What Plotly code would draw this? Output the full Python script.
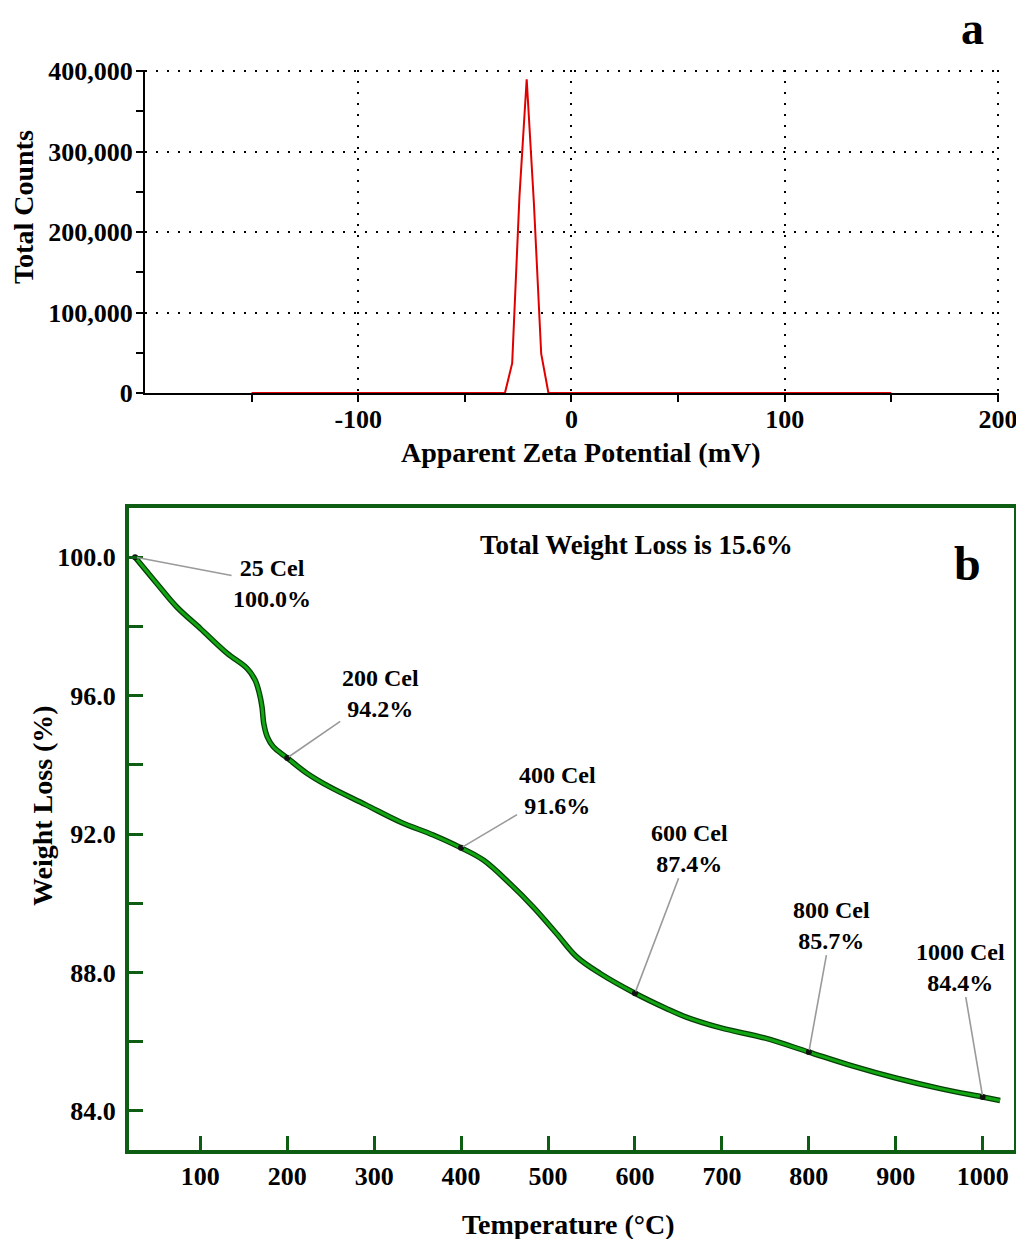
import plotly.graph_objects as go

# ---------------- data: panel a (zeta potential) ----------------
zeta_mv = [-150, -31.2, -27.8, -24.4, -21.0, -17.6, -14.2, -10.8, 150]
zeta_counts = [0, 0, 37000, 244000, 390000, 235000, 49000, 0, 0]
zeta_xticks = [-100, 0, 100, 200]
zeta_xlabels = ["-100", "0", "100", "200"]
zeta_xminor = [-150, -50, 50, 150]
zeta_yticks = [0, 100000, 200000, 300000, 400000]
zeta_ylabels = ["0", "100,000", "200,000", "300,000", "400,000"]
zeta_yminor = [50000, 150000, 250000, 350000]

# ---------------- data: panel b (TGA) ----------------
temp_c = [25, 50, 73, 100, 131, 154, 163, 168, 171, 173, 177, 184, 200, 223, 249,
          290, 330, 368, 400, 426, 456, 483, 510, 533, 560, 600, 636, 659, 700,
          750, 800, 850, 900, 950, 1000, 1020]
weight_pct = [100.0, 99.24, 98.56, 97.94, 97.22, 96.78, 96.45, 96.06, 95.67, 95.19,
              94.81, 94.52, 94.2, 93.75, 93.36, 92.85, 92.35, 91.97, 91.6, 91.24,
              90.57, 89.89, 89.12, 88.45, 87.97, 87.4, 86.96, 86.71, 86.39, 86.1,
              85.7, 85.3, 84.95, 84.65, 84.4, 84.3]
mark_temp = [25, 200, 400, 600, 800, 1000]
mark_weight = [100.0, 94.2, 91.6, 87.4, 85.7, 84.4]
mark_ax = [137, 93, 96, 55, 23, -22]
mark_ay = [26, -64, -57, -145, -127, -130]
tga_xticks = [100, 200, 300, 400, 500, 600, 700, 800, 900, 1000]
tga_yticks = [84, 86, 88, 90, 92, 94, 96, 98, 100]
tga_ylabels = ["84.0", "", "88.0", "", "92.0", "", "96.0", "", "100.0"]

FONT = "Liberation Serif"
GREEN_FRAME = "#0d5e12"
W, H = 1016, 1239


def px(v):
    return 1 - v / H


fig = go.Figure()

# panel a
fig.add_trace(go.Scatter(x=zeta_mv, y=zeta_counts, mode="lines",
                         line=dict(color="#e00000", width=2),
                         xaxis="x", yaxis="y", showlegend=False, cliponaxis=False))

# panel b curve (dark outline + green core)
fig.add_trace(go.Scatter(x=temp_c, y=weight_pct, mode="lines", line_shape="spline",
                         line=dict(color="#063d06", width=5.5),
                         xaxis="x2", yaxis="y2", showlegend=False))
fig.add_trace(go.Scatter(x=temp_c, y=weight_pct, mode="lines", line_shape="spline",
                         line=dict(color="#12a612", width=3),
                         xaxis="x2", yaxis="y2", showlegend=False))
fig.add_trace(go.Scatter(x=mark_temp, y=mark_weight, mode="markers",
                         marker=dict(color="#111111", size=6),
                         xaxis="x2", yaxis="y2", showlegend=False))

tick_font = dict(family=FONT, size=26, color="black", weight="bold")
dom_a_x = [145 / W, 999 / W]
dom_a_y = [px(393), px(70)]
dom_b_x = [129 / W, 1014 / W]
dom_b_y = [px(1150), px(508)]
xr_a = [-200, 200.5]
yr_a = [0, 401500]

fig.update_layout(
    template="none",
    width=W, height=H,
    margin=dict(l=0, r=0, t=0, b=0, autoexpand=False),
    paper_bgcolor="white", plot_bgcolor="white",
    font=dict(family=FONT, color="black"),
    showlegend=False,
    xaxis=dict(domain=dom_a_x, anchor="y", range=xr_a, automargin=False,
               tickvals=zeta_xticks, ticktext=zeta_xlabels, tickfont=tick_font,
               ticklabeloverflow="allow",
               ticks="outside", ticklen=7, tickwidth=2, tickcolor="black",
               minor=dict(tickvals=zeta_xminor, ticks="outside", ticklen=7,
                          tickwidth=2, tickcolor="black", showgrid=False),
               showline=True, linecolor="black", linewidth=2,
               showgrid=True, gridcolor="black", gridwidth=2, griddash="2px,9px",
               zeroline=False, ticklabelstandoff=-5),
    xaxis3=dict(overlaying="x", anchor="y", range=xr_a, automargin=False,
                tickvals=zeta_xticks + zeta_xminor, showticklabels=False,
                ticks="inside", ticklen=7, tickwidth=2, tickcolor="black",
                showgrid=False, showline=False, zeroline=False),
    yaxis=dict(domain=dom_a_y, anchor="x", range=yr_a, automargin=False,
               tickvals=zeta_yticks, ticktext=zeta_ylabels, tickfont=tick_font,
               ticklabeloverflow="allow",
               ticks="outside", ticklen=7, tickwidth=2, tickcolor="black",
               minor=dict(tickvals=zeta_yminor, ticks="outside", ticklen=7,
                          tickwidth=2, tickcolor="black", showgrid=False),
               showline=True, linecolor="black", linewidth=2,
               showgrid=True, gridcolor="black", gridwidth=2, griddash="2px,9px",
               zeroline=False, ticklabelstandoff=-2),
    yaxis3=dict(overlaying="y", anchor="x", range=yr_a, automargin=False,
                tickvals=zeta_yminor, showticklabels=False,
                ticks="inside", ticklen=7, tickwidth=2, tickcolor="black",
                showgrid=False, showline=False, zeroline=False),
    xaxis2=dict(domain=dom_b_x, anchor="y2", range=[18, 1036], automargin=False,
                tickvals=tga_xticks, tickfont=tick_font, ticklabeloverflow="allow",
                ticks="inside", ticklen=14, tickwidth=3, tickcolor=GREEN_FRAME,
                showline=True, linecolor=GREEN_FRAME, linewidth=4, mirror=True,
                showgrid=False, zeroline=False, ticklabelstandoff=0),
    yaxis2=dict(domain=dom_b_y, anchor="x2", range=[82.87, 101.42], automargin=False,
                tickvals=tga_yticks, ticktext=tga_ylabels, tickfont=tick_font,
                ticklabeloverflow="allow",
                ticks="inside", ticklen=14, tickwidth=3, tickcolor=GREEN_FRAME,
                showline=True, linecolor=GREEN_FRAME, linewidth=4, mirror=True,
                showgrid=False, zeroline=False, ticklabelstandoff=4),
)

title_font = dict(family=FONT, size=28, color="black", weight="bold")
ann = [
    dict(text="a", x=972 / W, y=px(28), font=dict(family=FONT, size=46, color="black", weight="bold")),
    dict(text="Total Counts", x=24 / W, y=px(207), textangle=-90, font=title_font),
    dict(text="Apparent Zeta Potential (mV)", x=581 / W, y=px(452), font=title_font),
    dict(text="b", x=967 / W, y=px(563), font=dict(family=FONT, size=48, color="black", weight="bold")),
    dict(text="Total Weight Loss is 15.6%", x=636 / W, y=px(545),
         font=dict(family=FONT, size=27, color="black", weight="bold")),
    dict(text="Weight Loss (%)", x=42 / W, y=px(806), textangle=-90, font=title_font),
    dict(text="Temperature (°C)", x=568 / W, y=px(1224), font=title_font),
]
for a in ann:
    fig.add_annotation(xref="paper", yref="paper", showarrow=False,
                       xanchor="center", yanchor="middle", **a)

for t, w, ax, ay in zip(mark_temp, mark_weight, mark_ax, mark_ay):
    fig.add_annotation(x=t, y=w, xref="x2", yref="y2",
                       text=f"{t} Cel<br>{w:.1f}%",
                       showarrow=True, arrowhead=0, arrowwidth=1.6,
                       arrowcolor="#9a9a9a", ax=ax, ay=ay, standoff=2,
                       font=dict(family=FONT, size=24, color="black", weight="bold"),
                       align="center")

fig.write_html("out.html", config={"displayModeBar": False},
               post_script="document.body.style.margin='0px';document.body.style.overflow='hidden';")
